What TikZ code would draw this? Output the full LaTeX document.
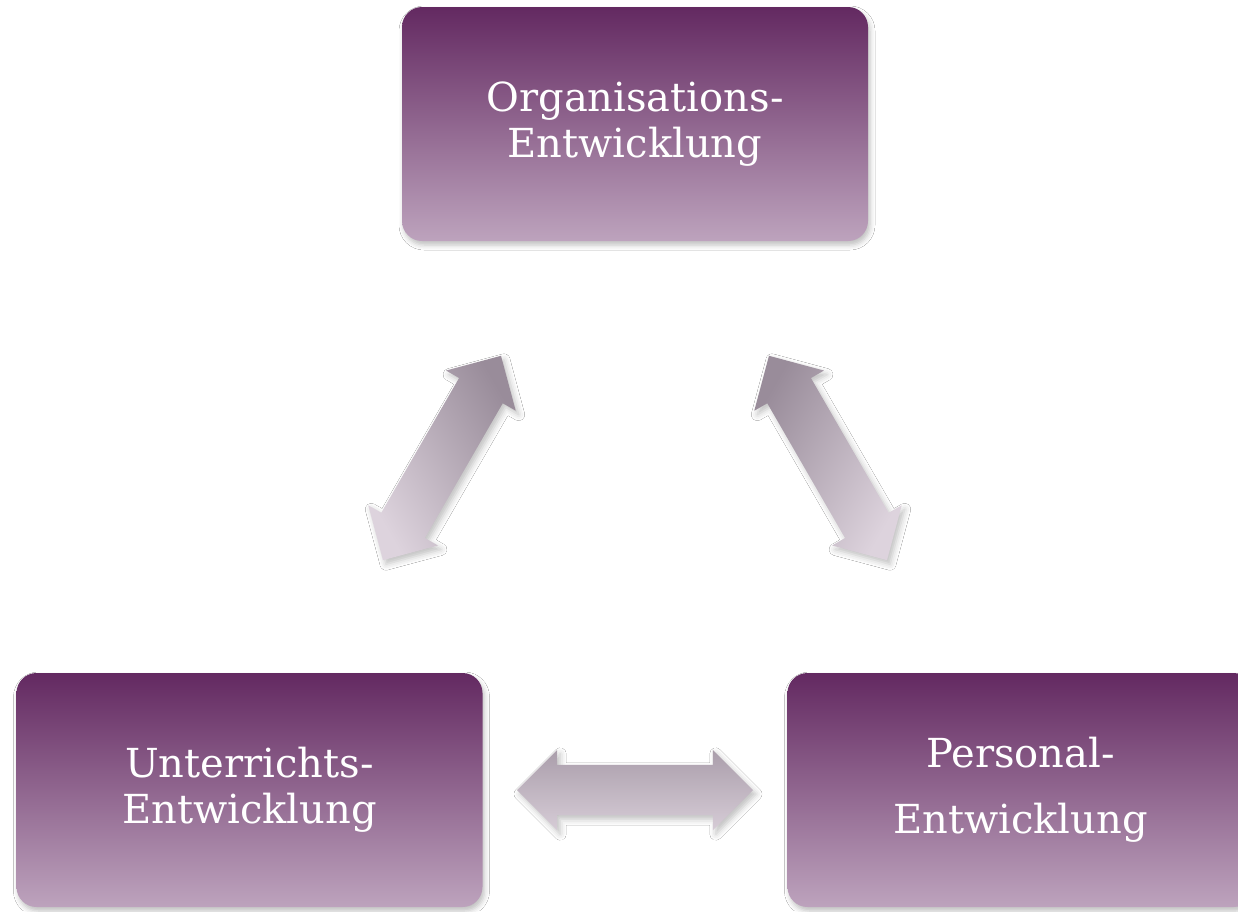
\documentclass[tikz,border=0pt]{standalone}
\usepackage{fontspec}
\setmainfont{DejaVu Serif}
\usetikzlibrary{shapes.arrows,shadows.blur}

\definecolor{boxtop}{HTML}{632961}
\definecolor{boxbot}{HTML}{BDA3BD}
\definecolor{arrtop}{HTML}{998C9A}
\definecolor{arrbot}{HTML}{DDD3DD}

\tikzset{
  entbox/.style={rounded corners=20pt, minimum width=466pt, minimum height=234pt,
    top color=boxtop, bottom color=boxbot, text=white, align=center,
    font=\fontsize{40}{46}\selectfont,
    blur shadow={shadow xshift=2pt, shadow yshift=-4pt, shadow blur radius=5pt, shadow opacity=25}},
  bigarrow/.style={double arrow, double arrow head extend=15pt, inner xsep=0pt, inner ysep=25pt,
    minimum height=236pt, top color=arrtop, bottom color=arrbot,
    blur shadow={shadow xshift=3pt, shadow yshift=-4pt, shadow blur radius=6pt, shadow opacity=25}}
}

\begin{document}
\begin{tikzpicture}[x=1pt,y=-1pt]
  \clip (0,0) rectangle (1238,911);
  \fill[white] (0,0) rectangle (1238,911);

  % boxes
  \node[entbox] (org) at (635,124) {Organisations-\\Entwicklung};
  \node[entbox] (unt) at (249.5,790) {Unterrichts-\\Entwicklung};
  \node[entbox] (pers) at (1020.5,790) {Personal-\\[20pt]Entwicklung};

  % arrows between them
  \node[bigarrow, rotate=60, shading angle=-60] (ou) at (442,458) {};
  \node[bigarrow, rotate=-60, shading angle=60] (op) at (828,458) {};
  \node[bigarrow, top color=arrtop!75!arrbot, bottom color=arrbot!90!arrtop] (up) at (635,790) {};
\end{tikzpicture}
\end{document}
